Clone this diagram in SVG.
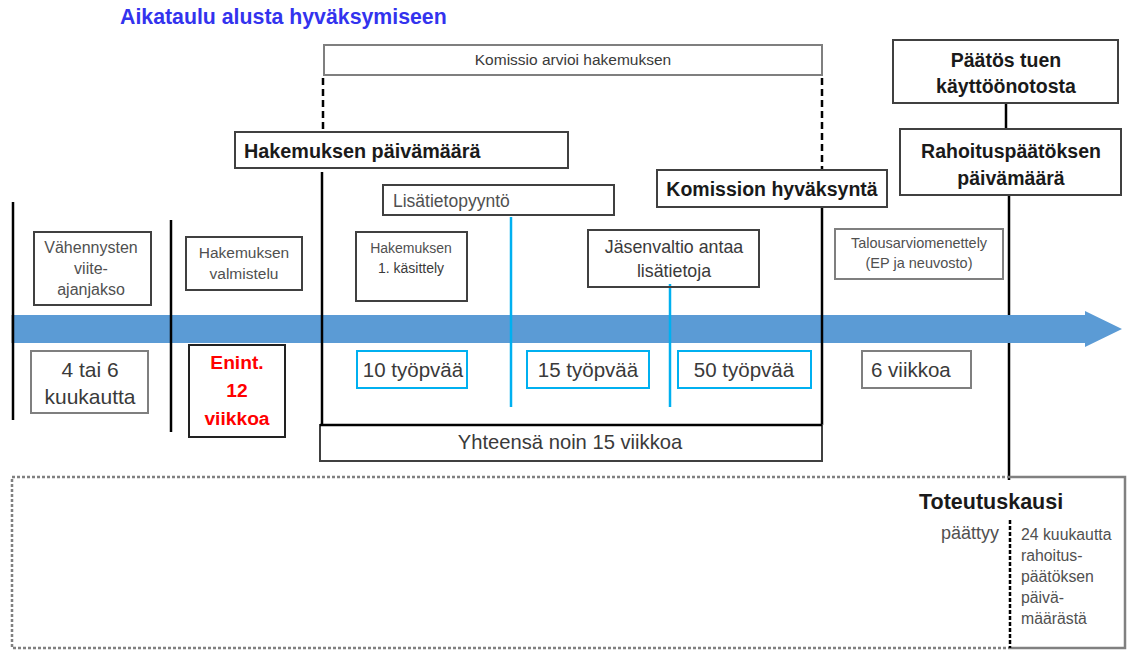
<svg xmlns="http://www.w3.org/2000/svg" width="1130" height="651" viewBox="0 0 1130 651">
<style>
text{font-family:"Liberation Sans",Arial,sans-serif;fill:#3a3a3a}
.b{fill:none;stroke:#404040;stroke-width:2}
.g{fill:none;stroke:#7f7f7f;stroke-width:2}
.c{fill:none;stroke:#00b0f0;stroke-width:2}
.bold{font-weight:bold;fill:#1a1a1a;font-size:19.5px}
.v{stroke:#000;stroke-width:2.5}
.m{text-anchor:middle}
.s{fill:#505050}
.big{font-size:20.5px}
</style>
<rect width="1130" height="651" fill="#fff"/>
<text x="120" y="24" font-size="21.3" font-weight="bold" style="fill:#3333ee">Aikataulu alusta hyväksymiseen</text>

<g id="connectors">
<line x1="323" y1="78" x2="323" y2="132" stroke="#000" stroke-width="2.5" stroke-dasharray="7,4"/>
<line x1="822" y1="78" x2="822" y2="170" stroke="#000" stroke-width="2.5" stroke-dasharray="7,4"/>
<line class="v" x1="322" y1="172" x2="322" y2="425"/>
<line class="v" x1="822" y1="207" x2="822" y2="425"/>
<line class="v" x1="13" y1="202" x2="13" y2="420"/>
<line class="v" x1="171" y1="220" x2="171" y2="432"/>
<line class="v" x1="1006" y1="103" x2="1006" y2="129"/>
<line class="v" x1="1009" y1="195" x2="1009" y2="480"/>
<line x1="511" y1="217" x2="511" y2="407" stroke="#00b0f0" stroke-width="2.5"/>
<line x1="670" y1="284" x2="670" y2="407" stroke="#00b0f0" stroke-width="2.5"/>
</g>

<g id="arrow">
<polygon points="13,315 1085,315 1085,311 1122,329 1085,347 1085,343 13,343" fill="#5b9bd5"/>
</g>
<g id="arrow-crossings">
<line class="v" x1="13" y1="315" x2="13" y2="343"/>
<line class="v" x1="171" y1="315" x2="171" y2="343"/>
<line class="v" x1="322" y1="315" x2="322" y2="343"/>
<line class="v" x1="822" y1="315" x2="822" y2="343"/>
<line x1="511" y1="315" x2="511" y2="343" stroke="#00b0f0" stroke-width="2.5"/>
<line x1="670" y1="315" x2="670" y2="343" stroke="#00b0f0" stroke-width="2.5"/>
</g>

<g id="komissio-arvioi">
<rect class="g" x="324" y="45" width="498" height="30"/>
<text class="m" x="573" y="65" font-size="15.5">Komissio arvioi hakemuksen</text>
</g>
<g id="hakemuksen-paivamaara">
<rect class="b" x="235" y="132" width="333" height="36" fill="#fff"/>
<text class="bold" x="244" y="158" style="font-size:19.8px">Hakemuksen päivämäärä</text>
</g>
<g id="lisatietopyynto">
<rect class="b" x="383" y="185" width="231" height="30" fill="#fff"/>
<text class="s" x="393" y="207" font-size="17.5">Lisätietopyyntö</text>
</g>
<g id="komission-hyvaksynta">
<rect class="b" x="657" y="170" width="230" height="37" fill="#fff"/>
<text class="bold m" x="772" y="196">Komission hyväksyntä</text>
</g>
<g id="paatos-tuen">
<rect class="b" x="893" y="40" width="225" height="63" fill="#fff"/>
<text class="bold m" x="1006" y="67">Päätös tuen</text>
<text class="bold m" x="1006" y="93">käyttöönotosta</text>
</g>
<g id="rahoituspaatoksen">
<rect class="b" x="900" y="129" width="221" height="66" fill="#fff"/>
<text class="bold m" x="1011" y="158">Rahoituspäätöksen</text>
<text class="bold m" x="1011" y="185">päivämäärä</text>
</g>
<g id="vahennysten">
<rect class="b" x="34" y="232" width="117" height="73" fill="#fff"/>
<text class="m s" x="91" y="253" font-size="16">Vähennysten</text>
<text class="m s" x="91" y="274" font-size="16">viite-</text>
<text class="m s" x="91" y="295" font-size="16">ajanjakso</text>
</g>
<g id="hakemuksen-valmistelu">
<rect class="b" x="186" y="237" width="116" height="53" fill="#fff"/>
<text class="m s" x="244" y="258" font-size="15.5">Hakemuksen</text>
<text class="m s" x="244" y="279" font-size="15.5">valmistelu</text>
</g>
<g id="hakemuksen-kasittely">
<rect class="b" x="356" y="232" width="111" height="69" fill="#fff"/>
<text class="m s" x="411" y="253" font-size="14">Hakemuksen</text>
<text class="m" x="411" y="273" font-size="14">1. käsittely</text>
</g>
<g id="jasenvaltio">
<rect class="b" x="588" y="230" width="171" height="57" fill="#fff"/>
<text class="m" x="674" y="253" font-size="17.8">Jäsenvaltio antaa</text>
<text class="m" x="674" y="277" font-size="17.8">lisätietoja</text>
</g>
<g id="talousarvio">
<rect class="g" x="835" y="229" width="168" height="50" fill="#fff"/>
<text class="m s" x="919" y="248" font-size="14.5">Talousarviomenettely</text>
<text class="m s" x="919" y="268" font-size="14.5">(EP ja neuvosto)</text>
</g>

<g id="kuukautta">
<rect class="g" x="31" y="351" width="117" height="62" fill="#fff"/>
<text class="m" x="90" y="377" font-size="21">4 tai 6</text>
<text class="m" x="90" y="404" font-size="21">kuukautta</text>
</g>
<g id="enint">
<rect x="189" y="345" width="96" height="92" fill="#fff" stroke="#222" stroke-width="2"/>
<text class="m" x="237" y="369" font-size="19.2" font-weight="bold" style="fill:#ff0000">Enint.</text>
<text class="m" x="237" y="397" font-size="19.2" font-weight="bold" style="fill:#ff0000">12</text>
<text class="m" x="237" y="425" font-size="19.2" font-weight="bold" style="fill:#ff0000">viikkoa</text>
</g>
<g id="tp10">
<rect class="c" x="357" y="351" width="110" height="37" fill="#fff"/>
<text class="m big" x="413" y="377">10 työpvää</text>
</g>
<g id="tp15">
<rect class="c" x="527" y="351" width="122" height="37" fill="#fff"/>
<text class="m big" x="588" y="377">15 työpvää</text>
</g>
<g id="tp50">
<rect class="c" x="678" y="351" width="133" height="37" fill="#fff"/>
<text class="m big" x="744" y="377">50 työpvää</text>
</g>
<g id="viikkoa6">
<rect class="g" x="862" y="351" width="109" height="37" fill="#fff"/>
<text class="big" x="871" y="377">6 viikkoa</text>
</g>
<g id="yhteensa">
<rect x="320" y="425" width="502" height="36" fill="#fff" stroke="#404040" stroke-width="2"/>
<line x1="320" y1="425" x2="822" y2="425" stroke="#000" stroke-width="2.5"/>
<text class="m" x="570" y="449" font-size="20.2">Yhteensä noin 15 viikkoa</text>
</g>

<g id="toteutuskausi">
<path d="M1010,477 H12 V648 H1010" fill="none" stroke="#808080" stroke-width="2.5" stroke-dasharray="3,2"/>
<path d="M1010,477 H1125 V648 H1010" fill="none" stroke="#808080" stroke-width="2.5"/>
<line x1="1010" y1="520" x2="1010" y2="648" stroke="#000" stroke-width="2.5" stroke-dasharray="4,2"/>
<text class="bold" x="919" y="509" style="font-size:21.5px">Toteutuskausi</text>
<text class="s" x="999" y="539" font-size="18" text-anchor="end">päättyy</text>
<text class="s" x="1021" y="540" font-size="15.8">24 kuukautta</text>
<text class="s" x="1021" y="561" font-size="15.8">rahoitus-</text>
<text class="s" x="1021" y="582" font-size="15.8">päätöksen</text>
<text class="s" x="1021" y="603" font-size="15.8">päivä-</text>
<text class="s" x="1021" y="624" font-size="15.8">määrästä</text>
</g>
</svg>
